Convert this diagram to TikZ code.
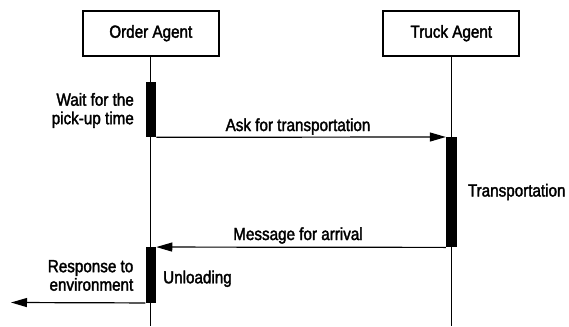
\documentclass[tikz,border=0pt]{standalone}
\usepackage{fontspec}
\setmainfont{Liberation Sans}[FakeStretch=0.87,FakeBold=2]
\usetikzlibrary{arrows.meta}
\tikzset{
  lbl/.style={font=\fontsize{17.5}{18.5}\selectfont, inner sep=0pt},
  agent/.style={draw, line width=1.8pt, minimum width=136pt, minimum height=45pt, inner sep=0pt, font=\fontsize{17.5}{18.5}\selectfont},
  actbar/.style={fill=black, draw=none, minimum width=10.5pt, inner sep=0pt},
  life/.style={line width=1.1pt},
  msg/.style={line width=1.2pt, -{Triangle[length=16pt,width=9pt]}},
}
\begin{document}
\begin{tikzpicture}[x=1pt,y=-1pt]
\useasboundingbox (0,0) rectangle (569,326);
% agents
\node[agent] (oa) at (150.8,33.2) {Order Agent};
\node[agent] (ta) at (451.3,33.2) {Truck Agent};
\coordinate (oend) at (150.8,326);
\coordinate (tend) at (451.3,326);
\draw[life] (oa.south) -- (oend);
\draw[life] (ta.south) -- (tend);
% activation bars
\node[actbar, minimum height=55pt] (b1) at (150.8,109.6) {};
\node[actbar, minimum height=110pt] (b2) at (451.3,192.2) {};
\node[actbar, minimum height=55.5pt] (b3) at (150.8,275) {};
% messages
\draw[msg] (b1.south east) -- (b2.north west);
\draw[msg] (b2.south west) -- (b3.north east);
\coordinate (env) at (11,302.5);
\draw[msg] (b3.south west) -- (env);
% labels
\node[lbl, anchor=base] (l1) at (298,131) {Ask for transportation};
\node[lbl, anchor=base] (l2) at (298,240) {Message for arrival};
\node[lbl, anchor=base west] (l3) at (467.7,196.5) {Transportation};
\node[lbl, anchor=base west] (l4) at (163,283.3) {Unloading};
\node[lbl, anchor=base east, align=right] (l5) at (134,124.2) {Wait for the\\pick-up time};
\node[lbl, anchor=base east, align=right] (l6) at (133.5,290.7) {Response to\\environment};
\end{tikzpicture}
\end{document}
